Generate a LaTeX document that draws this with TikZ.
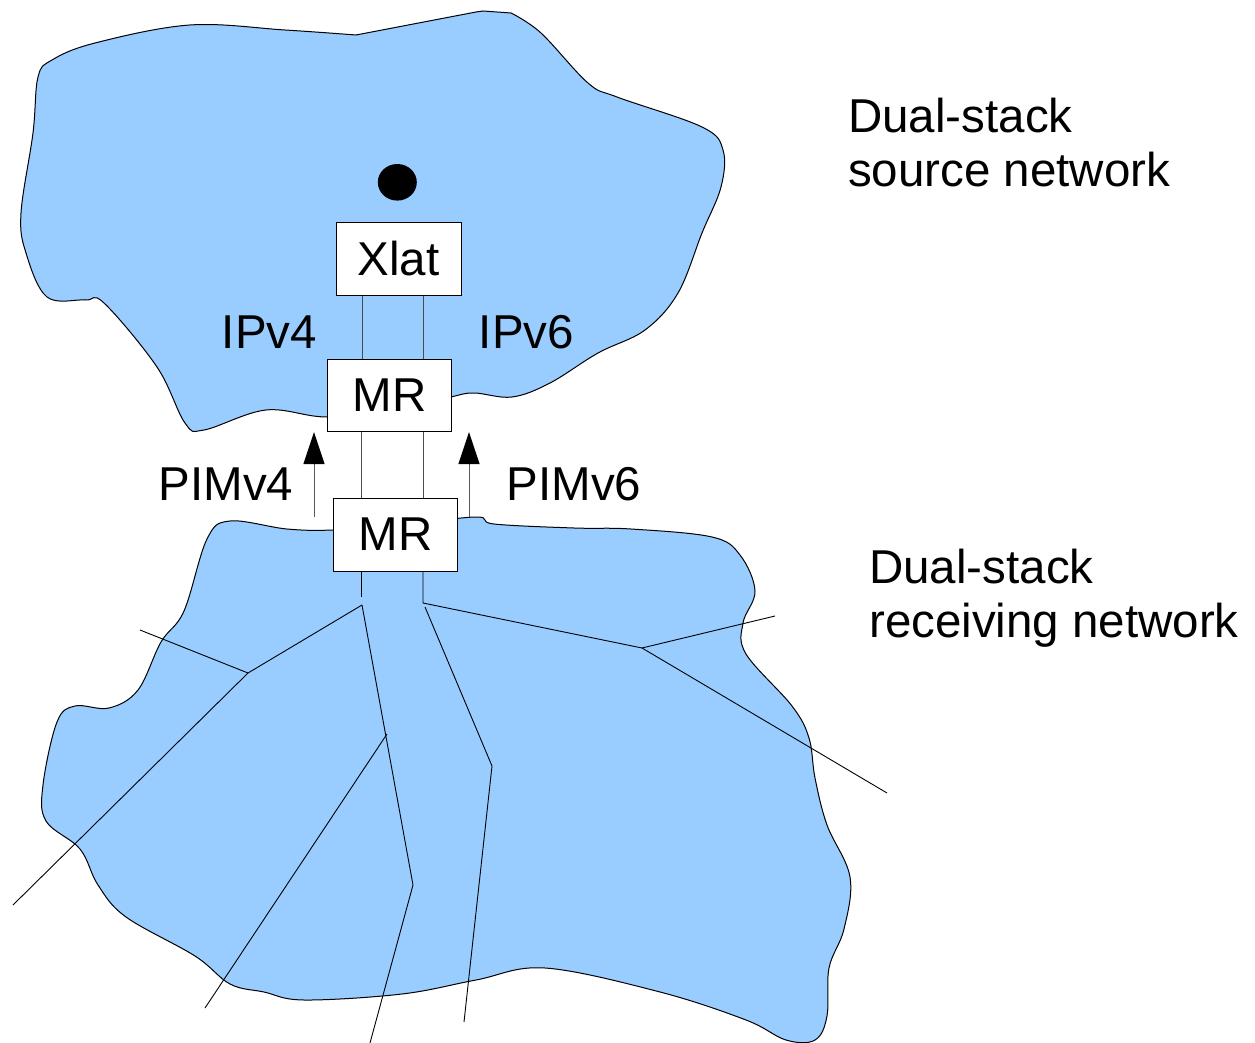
\documentclass[tikz,border=0pt]{standalone}
\usepackage{fontspec}
\setmainfont{Liberation Sans}
\usetikzlibrary{arrows.meta,shapes.geometric}
\definecolor{netblue}{HTML}{99CCFF}
\begin{document}
\begin{tikzpicture}[x=1pt,y=-1pt,
  blob/.style={draw=black,line width=1pt,fill=netblue},
  router/.style={draw=black,line width=1pt,fill=white,inner sep=0pt,font=\fontsize{47.5}{54}\selectfont},
  label/.style={inner sep=0pt,anchor=base west,font=\fontsize{47.5}{54}\selectfont},
  link/.style={draw=black!70,line width=1pt},
  tree/.style={draw=black,line width=0.9pt},
  pim/.style={draw=black!65,line width=1pt,-{Triangle[length=32pt,width=21pt,color=black]}}]
\useasboundingbox (0,0) rectangle (1255,1043);
% source network
\path[blob] (476,12) -- (483,11) -- (511,13) -- plot[smooth,tension=0.6] coordinates {(511,13) (541,33) (588,83) (617,97) (702,127) (723,150) (721,187) (702,233) (678,293) (645,330) (598,353) (550,383) (512,397) (474,393) (451,397) (400,410) (327,417) (266,410) (204,430) (185,423) (157,367) (104,303) (85,300) (47,297) (26,253) (21,213) (33,133) (38,77) (52,60) (95,43) (190,25) (285,30) (356,35)} -- cycle;
% receiving network
\path[blob] plot[smooth cycle,tension=0.6] coordinates {(476,517) (494,524) (574,528) (631,529) (712,537) (740,555) (755,591) (743,623) (746,654) (792,706) (809,738) (815,778) (827,825) (850,877) (844,929) (829,968) (827,1016) (815,1040) (786,1040) (746,1020) (660,992) (545,968) (476,980) (402,994) (304,1000) (264,992) (230,984) (195,956) (126,917) (98,885) (80,849) (46,821) (43,785) (57,722) (75,706) (109,708) (138,690) (161,642) (184,611) (207,539) (230,521) (287,529) (333,530) (400,525)};
% nodes
\node[ellipse,fill=black,inner sep=0pt,minimum width=39pt,minimum height=36.6pt] (dot) at (397.3,182.3) {};
\node[router,minimum width=125pt,minimum height=73pt] (xlat) at (398.5,258.5) {Xlat};
\node[router,minimum width=124pt,minimum height=72pt] (mr1) at (389.5,395.5) {MR};
\node[router,minimum width=124pt,minimum height=73pt] (mr2) at (395.5,534.5) {MR};
\coordinate (v4) at (362,0);
\coordinate (v6) at (423,0);
\coordinate (w4) at (361,0);
% links between routers
\draw[link] (v4 |- xlat.south) -- (v4 |- mr1.north);
\draw[link] (v6 |- xlat.south) -- (v6 |- mr1.north);
\draw[link] (w4 |- mr1.south) -- (w4 |- mr2.north);
\draw[link] (v6 |- mr1.south) -- (v6 |- mr2.north);
% PIM arrows
\coordinate (p4s) at (314,517); \coordinate (p4e) at (314,432);
\coordinate (p6s) at (469,517); \coordinate (p6e) at (469,432);
\draw[pim] (p4s) -- (p4e);
\draw[pim] (p6s) -- (p6e);
% distribution trees
\coordinate (a0) at (361,597);
\coordinate (a1) at (362,605);
\coordinate (a2) at (248,673);
\coordinate (a3) at (140,630);
\coordinate (a4) at (13,905);
\coordinate (a5) at (413,885);
\coordinate (a6) at (370,1043);
\coordinate (a7) at (387,734);
\coordinate (a8) at (205,1008);
\coordinate (b0) at (423,603);
\coordinate (b1) at (642,648);
\coordinate (b2) at (775,616);
\coordinate (b3) at (887,793);
\coordinate (b4) at (425,607);
\coordinate (b5) at (492,766);
\coordinate (b6) at (464,1022);
\draw[tree] (w4 |- mr2.south) -- (a0);
\draw[tree] (a1) -- (a2) -- (a3);
\draw[tree] (a2) -- (a4);
\draw[tree] (a1) -- (a5) -- (a6);
\draw[tree] (a7) -- (a8);
\draw[tree] (v6 |- mr2.south) -- (b0) -- (b1) -- (b2);
\draw[tree] (b1) -- (b3);
\draw[tree] (b4) -- (b5) -- (b6);
% labels
\node[label] (ipv4) at (221.6,348) {IPv4};
\node[label] (ipv6) at (478.6,348) {IPv6};
\node[label] (pimv4) at (158.4,500) {PIMv4};
\node[label] (pimv6) at (506.4,500) {PIMv6};
\node[label] (src1) at (848,133) {Dual-stack};
\node[label] (src2) at (848,186) {source network};
\node[label] (rcv1) at (869,583) {Dual-stack};
\node[label] (rcv2) at (869,637) {receiving network};
\end{tikzpicture}
\end{document}
